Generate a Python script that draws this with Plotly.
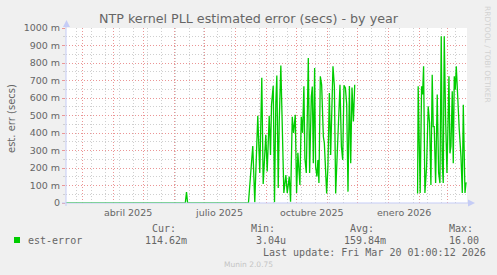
import plotly.graph_objects as go
import pandas as pd

# ---------------- data ----------------
start = pd.Timestamp("2025-02-13 01:00")
end = pd.Timestamp("2026-03-20 01:00")

# day offsets from start, values in seconds
seg1_day = [0, 119, 120.2, 121.3, 182]
seg1_val = [0.000003, 0.000003, 0.063, 0.000003, 0.000003]

seg2_day = [183.5, 186.3, 188.3, 191.3, 193.3, 195.3, 196.7, 199.3, 200.7, 202.7,
            204, 205, 206.7, 208, 209.3, 210.3, 211.7, 212.7, 214.3, 216,
            217.3, 219.3, 220.7, 222.7, 224, 225.7, 227, 228.7, 230, 231.3,
            233.3, 234.7, 236, 237.3, 238.3, 239.7, 240.7, 241.7, 243, 244.7,
            245.7, 246.7, 248, 249, 250.3, 251.3, 252.3, 253.7, 255, 256.7,
            257.7, 258.7, 260, 261.3, 262.7, 264, 265, 266.3, 267.7, 269,
            270.3, 271.7, 273.3, 274.7, 276, 277.3, 278.7, 280, 281.3, 282.7,
            284, 285.3, 286.7, 288]
seg2_val = [0.122, 0.326, 0.005, 0.498, 0.172, 0.716, 0.109, 0.390, 0.180, 0.498,
            0.275, 0.562, 0.670, 0.005, 0.573, 0.728, 0.086, 0.466, 0.785, 0.401,
            0.057, 0.160, 0.057, 0.151, 0.007, 0.493, 0.401, 0.504, 0.057, 0.287,
            0.103, 0.493, 0.401, 0.667, 0.256, 0.172, 0.510, 0.829, 0.172, 0.609,
            0.665, 0.227, 0.772, 0.208, 0.151, 0.246, 0.114, 0.724, 0.676, 0.380,
            0.342, 0.218, 0.055, 0.208, 0.629, 0.275, 0.458, 0.781, 0.667, 0.055,
            0.246, 0.493, 0.676, 0.323, 0.246, 0.672, 0.657, 0.562, 0.065, 0.668,
            0.227, 0.660, 0.466, 0.676]

seg3_day = [350.7, 351.3, 353.3, 354.7, 355.7, 356.7, 358, 359.7, 361.3, 362.7,
            364, 365.3, 366.3, 367.3, 368.7, 370.3, 371.7, 373, 374.3, 375.3,
            376.3, 377.3, 378.7, 380, 381, 382, 383, 384, 385.3, 386.3,
            387.3, 388.3, 389.3, 390.7, 392.3, 394, 395.3, 396.3, 398, 399, 399.7]
seg3_val = [0.055, 0.667, 0.057, 0.667, 0.620, 0.781, 0.057, 0.208, 0.552, 0.456,
            0.103, 0.733, 0.437, 0.437, 0.114, 0.620, 0.172, 0.114, 0.953, 0.227,
            0.114, 0.953, 0.475, 0.172, 0.437, 0.724, 0.284, 0.324, 0.639, 0.227,
            0.724, 0.647, 0.781, 0.571, 0.418, 0.265, 0.057, 0.562, 0.057, 0.114, 0.11462]

y_tick_vals = [0, 0.1, 0.2, 0.3, 0.4, 0.5, 0.6, 0.7, 0.8, 0.9, 1.0]
y_tick_text = ["0", "100 m", "200 m", "300 m", "400 m", "500 m", "600 m",
               "700 m", "800 m", "900 m", "1000 m"]
x_label_dates = ["2025-04-16", "2025-07-16", "2025-10-16", "2026-01-16"]
x_label_text = ["abril 2025", "julio 2025", "octubre 2025", "enero 2026"]

series_name = "est-error"
stat_cur = "114.62m"
stat_min = "3.04u"
stat_avg = "159.84m"
stat_max = "16.00"

# ---------------- build ----------------
W, H = 497, 275
L, R, T, B = 66, 30, 28, 72
PW = W - L - R
PH = H - T - B


def px(x):
    return (x - L) / PW


def py(y):
    return (H - B - y) / PH


days = seg1_day + seg2_day + [None] + seg3_day
vals = seg1_val + seg2_val + [None] + seg3_val
xs = [None if d is None else start + pd.Timedelta(days=d) for d in days]

GREEN = "#00CC00"
FONT = "#666666"
MGRID = "#EB9595"
GRID = "#CFCFCF"
AXIS = "#C5CCF6"
DASH = "1px,2px"

fig = go.Figure()
fig.add_trace(go.Scatter(x=xs, y=vals, mode="lines",
                         line=dict(color=GREEN, width=1.3),
                         connectgaps=False, hoverinfo="skip"))

month_starts = [d.strftime("%Y-%m-%d") for d in pd.date_range("2025-03-01", "2026-03-01", freq="MS")]
biweekly = [d.strftime("%Y-%m-%d") for d in pd.date_range("2025-02-24", "2026-03-20", freq="14D")]

fig.update_xaxes(type="date", range=[start, end], tickmode="array", tickvals=month_starts,
                 showticklabels=False, ticks="", showgrid=True, gridcolor=MGRID,
                 griddash=DASH, gridwidth=1, showline=False, zeroline=False,
                 minor=dict(tickmode="array", tickvals=biweekly, showgrid=True,
                            gridcolor=GRID, griddash=DASH, gridwidth=1))

minor_y = [0.05 + 0.1 * i for i in range(10)]
fig.update_yaxes(range=[0, 1.0], tickmode="array", tickvals=y_tick_vals, ticktext=y_tick_text,
                 ticks="outside", ticklen=3, tickcolor=MGRID, tickwidth=1,
                 tickfont=dict(family="DejaVu Sans", size=9.5, color=FONT),
                 showgrid=True, gridcolor=MGRID, griddash=DASH, gridwidth=1,
                 showline=False, zeroline=False,
                 minor=dict(tickmode="array", tickvals=minor_y, showgrid=True,
                            gridcolor=GRID, griddash=DASH, ticks="outside",
                            ticklen=2, tickcolor=GRID))

shapes = [
    # y axis line + arrow
    dict(type="line", xref="paper", yref="paper", x0=px(66), x1=px(66), y0=py(206), y1=py(25),
         line=dict(color=AXIS, width=1)),
    dict(type="path", xref="paper", yref="paper",
         path=f"M {px(63)} {py(27)} L {px(66.5)} {py(20)} L {px(70)} {py(27)} Z",
         fillcolor=AXIS, line=dict(color=AXIS, width=0)),
    # x axis line + arrow
    dict(type="line", xref="paper", yref="paper", x0=px(62), x1=px(470), y0=py(203), y1=py(203),
         line=dict(color=AXIS, width=1)),
    dict(type="path", xref="paper", yref="paper",
         path=f"M {px(468)} {py(199.5)} L {px(475)} {py(203)} L {px(468)} {py(206.5)} Z",
         fillcolor=AXIS, line=dict(color=AXIS, width=0)),
    # legend swatch
    dict(type="rect", xref="paper", yref="paper", x0=px(14), x1=px(20), y0=py(243), y1=py(237),
         fillcolor=GREEN, line=dict(color=GREEN, width=0)),
]

annotations = []


def ann(text, x, y, xanchor="left", size=10, family="DejaVu Sans Mono", color=FONT, angle=0):
    annotations.append(dict(text=text, x=px(x), y=py(y), xref="paper", yref="paper",
                            xanchor=xanchor, yanchor="middle", showarrow=False,
                            textangle=angle, font=dict(family=family, size=size, color=color)))


for d, t in zip(x_label_dates, x_label_text):
    annotations.append(dict(text=t, x=d, y=py(212), xref="x", yref="paper",
                            xanchor="center", yanchor="middle", showarrow=False,
                            font=dict(family="DejaVu Sans", size=9.5, color=FONT)))

ann("est. err (secs)", 11, 119, xanchor="center", size=10, family="DejaVu Sans", angle=-90)

ann("Cur:", 150, 228.5)
ann("Min:", 249, 228.5)
ann("Avg:", 348, 228.5)
ann("Max:", 447, 228.5)
ann(series_name, 26, 240)
ann(stat_cur, 143, 240)
ann(stat_min, 254, 240)
ann(stat_avg, 342, 240)
ann(stat_max, 447, 240)
ann("Last update: Fri Mar 20 01:00:12 2026", 261, 252)
ann("Munin 2.0.75", 248, 264, xanchor="center", size=7.5, family="DejaVu Sans", color="#C4C4C4")
ann("RRDTOOL / TOBI OETIKER", 488, 54, xanchor="center", size=7.5, family="DejaVu Sans",
    color="#D2D2D2", angle=90)

fig.update_layout(
    width=W, height=H,
    margin=dict(l=L, r=R, t=T, b=B, pad=0),
    paper_bgcolor="#F0F0F0", plot_bgcolor="#FFFFFF",
    showlegend=False,
    title=dict(text="NTP kernel PLL estimated error (secs) - by year",
               x=0.5, xref="container", xanchor="center",
               y=1 - 19 / H, yref="container", yanchor="middle",
               font=dict(family="DejaVu Sans", size=12.7, color=FONT)),
    shapes=shapes, annotations=annotations,
)

fig.write_html("out.html")
